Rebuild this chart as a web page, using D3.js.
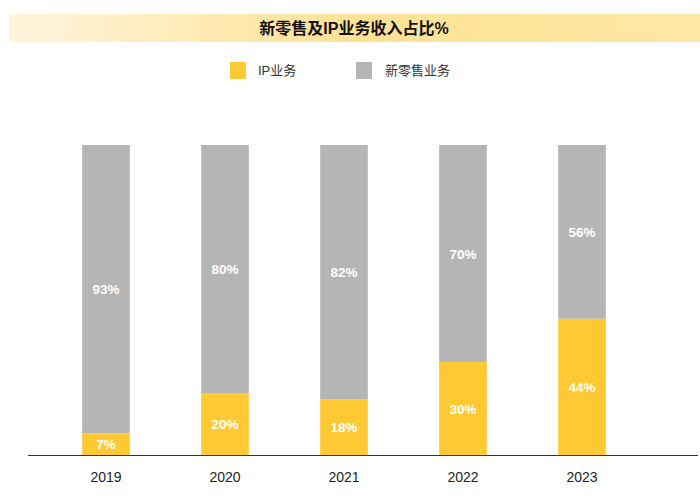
<!DOCTYPE html>
<html>
<head>
<meta charset="utf-8">
<script src="https://cdn.jsdelivr.net/npm/d3@7"></script>
<style>
  body { margin: 0; background: #fff; }
  text { font-family: Arial, "Liberation Sans", "Noto Sans CJK SC", sans-serif; }
</style>
</head>
<body>
<div id="chart"></div>
<script>
// 新零售及IP业务收入占比
var years = ["2019", "2020", "2021", "2022", "2023"];
var ipShare = [7, 20, 18, 30, 44];
var retailShare = [93, 80, 82, 70, 56];
var seriesNames = ["IP业务", "新零售业务"];
var seriesColors = ["#FFC933", "#B5B5B5"];

var width = 700, height = 498;

var svg = d3.select("#chart").append("svg")
    .attr("width", width)
    .attr("height", height);

/* title bar gradient */
var grad = svg.append("defs").append("linearGradient")
    .attr("id", "titleGrad");
grad.append("stop").attr("offset", "0%").attr("stop-color", "#FFF5DE");
grad.append("stop").attr("offset", "50%").attr("stop-color", "#FFE294");
grad.append("stop").attr("offset", "100%").attr("stop-color", "#FFE6A4");

svg.append("rect")
    .attr("x", 9).attr("y", 14)
    .attr("width", 691).attr("height", 28)
    .attr("fill", "url(#titleGrad)");

svg.append("text")
    .attr("x", 354).attr("y", 34)
    .attr("text-anchor", "middle")
    .attr("font-size", 16)
    .attr("font-weight", "bold")
    .attr("fill", "#111")
    .text("新零售及IP业务收入占比%");

/* scales */
var x = d3.scaleBand().domain(years).range([46.5, 641.5]).paddingInner(0.6).paddingOuter(0.3);
var y = d3.scaleLinear().domain([0, 100]).range([455, 145]);

var data = years.map(function(d, i) {
    return { year: d, ip: ipShare[i], retail: retailShare[i] };
});
var stacked = d3.stack().keys(["ip", "retail"])(data);

var groups = svg.selectAll("g.series")
    .data(stacked)
    .enter().append("g")
    .attr("class", "series")
    .attr("fill", function(d, i) { return seriesColors[i]; });

groups.selectAll("rect")
    .data(function(d) { return d; })
    .enter().append("rect")
    .attr("x", function(d) { return x(d.data.year); })
    .attr("y", function(d) { return y(d[1]); })
    .attr("width", x.bandwidth())
    .attr("height", function(d) { return y(d[0]) - y(d[1]); });

groups.selectAll("text")
    .data(function(d) { return d; })
    .enter().append("text")
    .attr("x", function(d) { return x(d.data.year) + x.bandwidth() / 2; })
    .attr("y", function(d) { return (y(d[0]) + y(d[1])) / 2 + 5; })
    .attr("text-anchor", "middle")
    .attr("font-size", 13.5)
    .attr("font-weight", "bold")
    .attr("fill", "#fff")
    .text(function(d) { return (d[1] - d[0]) + "%"; });

/* x axis */
var xAxis = svg.append("g")
    .attr("transform", "translate(0,455)")
    .call(d3.axisBottom(x).tickSize(0).tickPadding(17));
xAxis.select(".domain").remove();
xAxis.selectAll("text")
    .attr("font-size", 14)
    .attr("fill", "#222")
    .style("font-family", "Arial, 'Liberation Sans', sans-serif");
svg.append("line")
    .attr("x1", 28).attr("x2", 698)
    .attr("y1", 455.5).attr("y2", 455.5)
    .attr("stroke", "#333").attr("stroke-width", 1);

/* legend */
var legendX = [230, 356];
var legend = svg.selectAll("g.legend")
    .data(seriesNames)
    .enter().append("g")
    .attr("class", "legend")
    .attr("transform", function(d, i) { return "translate(" + legendX[i] + ",62)"; });
legend.append("rect")
    .attr("width", 16).attr("height", 17)
    .attr("fill", function(d, i) { return seriesColors[i]; });
legend.append("text")
    .attr("x", function(d, i) { return i === 0 ? 28 : 29; })
    .attr("y", 13)
    .attr("font-size", 13)
    .attr("fill", "#333")
    .text(function(d) { return d; });
</script>
</body>
</html>
